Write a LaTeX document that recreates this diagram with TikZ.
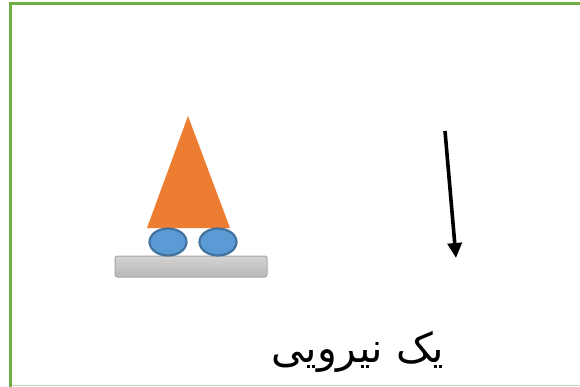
\documentclass[tikz,border=0pt]{standalone}
\usepackage{fontspec}
\newfontfamily\arabicfont[Script=Arabic]{DejaVu Sans}
\TeXXeTstate=1
\usetikzlibrary{shapes.geometric,arrows.meta}

\definecolor{framegreen}{RGB}{112,173,71}
\definecolor{conecol}{RGB}{237,125,49}
\definecolor{wheelcol}{RGB}{91,155,213}
\definecolor{wheelline}{RGB}{65,113,156}

\begin{document}
\begin{tikzpicture}[x=1pt,y=-1pt]
    \tikzstyle{wheel}=[ellipse,draw=wheelline,line width=2.2pt,fill=wheelcol,minimum width=37pt,minimum height=27pt,inner sep=0pt]
    \tikzstyle{base}=[rounded corners=2.5pt,draw=black!35,line width=1pt,top color=black!17,bottom color=black!28]
    \tikzstyle{force}=[-{Triangle[length=15pt,width=14pt]},line width=3.6pt]

    \useasboundingbox (0,0) rectangle (580,387);

% Frame
    \draw[framegreen!40,line width=1.5pt] (10,385.5) -- (580,385.5);
    \draw[framegreen,line width=3pt] (10,387) -- (10,4) -- (580,4);

% Cart
    % platform
    \path[base] (115,256) rectangle (267,277);
    % cone
    \fill[conecol] (188,116) -- (230,228) -- (147,228) -- cycle;
    % wheels
    \node[wheel] (w1) at (168,242) {};
    \node[wheel] (w2) at (218,242) {};

% Force
    \coordinate (f1) at (445,131);
    \coordinate (f2) at (456,258);
    \draw[force] (f1) -- (f2);

    \node (lbl) at (358,352) {\fontsize{41}{46}\selectfont\arabicfont\beginR یک نیرویی\endR};

\end{tikzpicture}
\end{document}
